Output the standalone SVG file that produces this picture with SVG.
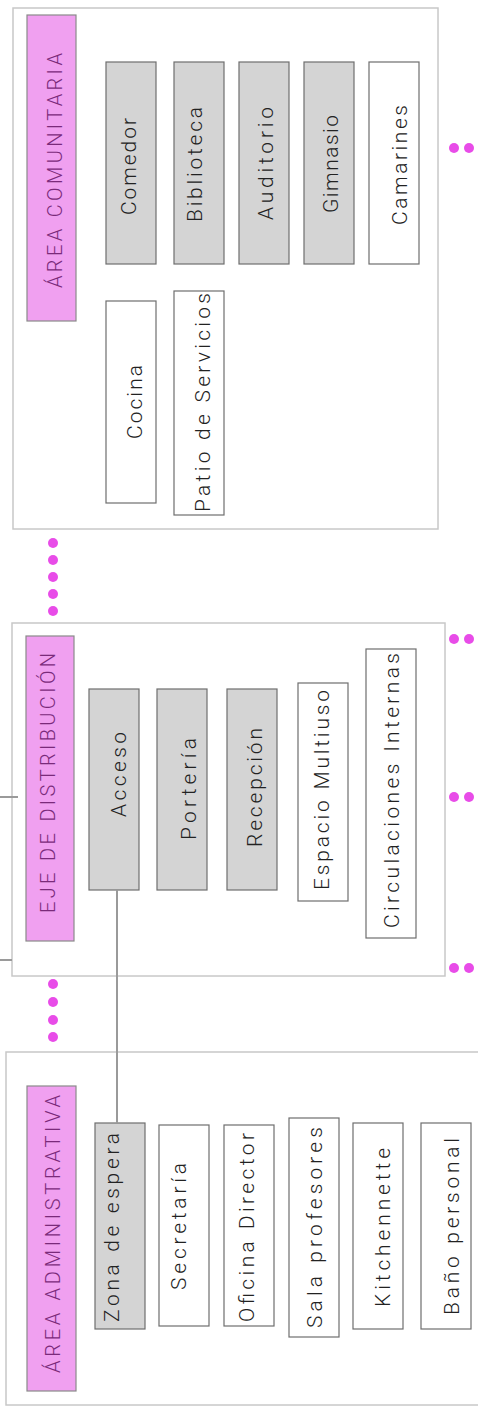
<svg xmlns="http://www.w3.org/2000/svg" width="478" height="1412" viewBox="0 0 478 1412">
<style>
.bg{fill:#ffffff}
.area{fill:#ffffff;stroke:#c8c8c8;stroke-width:1.5}
.hdr{fill:#f0a0f0;stroke:#8a8a8a;stroke-width:1.2}
.hdrt{font-family:Roboto,"Liberation Sans",sans-serif;font-weight:300;font-size:20px;fill:#7a2a7a;text-anchor:middle;dominant-baseline:central}
.g{fill:#d4d4d4;stroke:#6e6e6e;stroke-width:1.2}
.w{fill:#ffffff;stroke:#6e6e6e;stroke-width:1.2}
.t{font-family:Roboto,"Liberation Sans",sans-serif;font-weight:300;font-size:21px;fill:#222;text-anchor:middle;dominant-baseline:central}
.ln{stroke:#9a9a9a;stroke-width:2;fill:none}
.dot{fill:#e84ce8}
</style>
<rect class="bg" x="0" y="0" width="478" height="1412"/>

<g id="area-comunitaria">
<rect class="area" x="13" y="8" width="425" height="521"/>
<rect class="hdr" x="27" y="15" width="49" height="306"/>
<text class="hdrt" transform="translate(55,170.5) rotate(-90)" textLength="235">ÁREA COMUNITARIA</text>
</g>
<g id="comedor"><rect class="g" x="106" y="62" width="50" height="202"/><text class="t" transform="translate(128.5,166.5) rotate(-90)" textLength="97">Comedor</text></g>
<g id="biblioteca"><rect class="g" x="174" y="62" width="50" height="202"/><text class="t" transform="translate(195,164.5) rotate(-90)" textLength="115">Biblioteca</text></g>
<g id="auditorio"><rect class="g" x="239" y="62" width="50" height="202"/><text class="t" transform="translate(265.5,163.5) rotate(-90)" textLength="113">Auditorio</text></g>
<g id="gimnasio"><rect class="g" x="304" y="62" width="50" height="202"/><text class="t" transform="translate(330.5,164) rotate(-90)" textLength="98">Gimnasio</text></g>
<g id="camarines"><rect class="w" x="369" y="62" width="50" height="202"/><text class="t" transform="translate(399.5,165) rotate(-90)" textLength="120">Camarines</text></g>
<g id="cocina"><rect class="w" x="106" y="301" width="50" height="202"/><text class="t" transform="translate(135,402) rotate(-90)" textLength="74">Cocina</text></g>
<g id="patio-servicios"><rect class="w" x="174" y="291" width="50" height="224"/><text class="t" transform="translate(202.5,402.5) rotate(-90)" textLength="219">Patio de Servicios</text></g>

<g id="eje-distribucion">
<rect class="area" x="12" y="623" width="433" height="353"/>
<rect class="hdr" x="26" y="636" width="48" height="305"/>
<text class="hdrt" transform="translate(48,783) rotate(-90)" textLength="260">EJE DE DISTRIBUCIÓN</text>
</g>
<g id="acceso"><rect class="g" x="89" y="689" width="50" height="201"/><text class="t" transform="translate(119,774.5) rotate(-90)" textLength="85">Acceso</text></g>
<g id="porteria"><rect class="g" x="157" y="689" width="50" height="201"/><text class="t" transform="translate(188.5,789) rotate(-90)" textLength="102">Portería</text></g>
<g id="recepcion"><rect class="g" x="227" y="689" width="50" height="201"/><text class="t" transform="translate(255,787.5) rotate(-90)" textLength="119">Recepción</text></g>
<g id="espacio-multiuso"><rect class="w" x="298" y="683" width="50" height="218"/><text class="t" transform="translate(321.5,790) rotate(-90)" textLength="200">Espacio Multiuso</text></g>
<g id="circulaciones-internas"><rect class="w" x="366" y="649" width="50" height="289"/><text class="t" transform="translate(391.5,790.5) rotate(-90)" textLength="275">Circulaciones Internas</text></g>

<g id="area-administrativa">
<rect class="area" x="6" y="1052" width="480" height="353"/>
<rect class="hdr" x="27" y="1086" width="49" height="305"/>
<text class="hdrt" transform="translate(53,1234) rotate(-90)" textLength="278">ÁREA ADMINISTRATIVA</text>
</g>
<g id="zona-espera"><rect class="g" x="95" y="1123" width="50" height="206"/><text class="t" transform="translate(112,1227.5) rotate(-90)" textLength="189">Zona de espera</text></g>
<g id="secretaria"><rect class="w" x="159" y="1125" width="50" height="201"/><text class="t" transform="translate(179,1226.5) rotate(-90)" textLength="127">Secretaría</text></g>
<g id="oficina-director"><rect class="w" x="224" y="1125" width="50" height="201"/><text class="t" transform="translate(247,1227.5) rotate(-90)" textLength="189">Oficina Director</text></g>
<g id="sala-profesores"><rect class="w" x="289" y="1118" width="50" height="219"/><text class="t" transform="translate(315,1227.5) rotate(-90)" textLength="201">Sala profesores</text></g>
<g id="kitchennette"><rect class="w" x="353" y="1123" width="50" height="206"/><text class="t" transform="translate(383,1227.5) rotate(-90)" textLength="159">Kitchennette</text></g>
<g id="bano-personal"><rect class="w" x="421" y="1123" width="50" height="206"/><text class="t" transform="translate(452,1226.5) rotate(-90)" textLength="177">Baño personal</text></g>

<g id="connectors">
<line class="ln" x1="117" y1="890" x2="117" y2="1123"/>
<line class="ln" x1="0" y1="797" x2="18" y2="797"/>
<line class="ln" x1="0" y1="960" x2="12" y2="960"/>
</g>

<g id="dots">
<circle class="dot" cx="454" cy="148" r="5"/><circle class="dot" cx="469" cy="148" r="5"/>
<circle class="dot" cx="53" cy="543" r="5"/><circle class="dot" cx="53" cy="560" r="5"/><circle class="dot" cx="53" cy="577" r="5"/><circle class="dot" cx="53" cy="594" r="5"/><circle class="dot" cx="53" cy="611" r="5"/>
<circle class="dot" cx="454" cy="639" r="5"/><circle class="dot" cx="469" cy="639" r="5"/>
<circle class="dot" cx="454" cy="797" r="5"/><circle class="dot" cx="469" cy="797" r="5"/>
<circle class="dot" cx="454" cy="968" r="5"/><circle class="dot" cx="469" cy="968" r="5"/>
<circle class="dot" cx="53" cy="984" r="5"/><circle class="dot" cx="53" cy="1002" r="5"/><circle class="dot" cx="53" cy="1020" r="5"/><circle class="dot" cx="53" cy="1037" r="5"/>
</g>
</svg>
